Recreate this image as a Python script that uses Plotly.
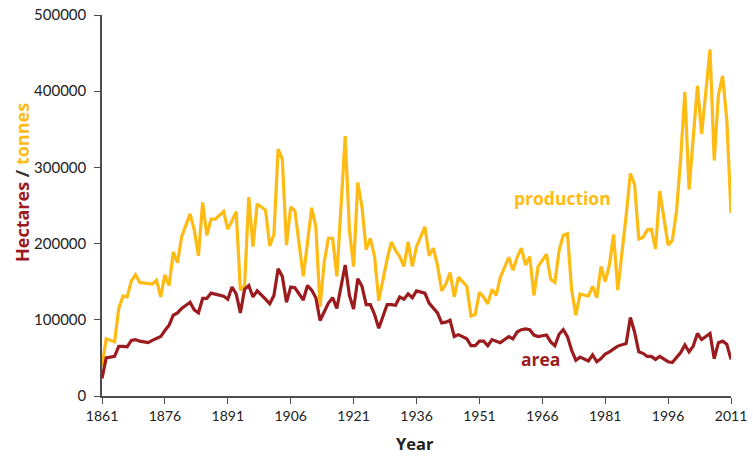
import plotly.graph_objects as go

years = [1861,1862,1864,1865,1866,1867,1868,1869,1870,1872,1873,1874,1875,1876,1877,1878,1879,1880,
         1882,1883,1884,1885,1886,1887,1888,1890,1891,1892,1893,1894,1895,1896,1897,1898,1900,1901,
         1902,1903,1904,1905,1906,1907,1909,1910,1911,1912,1913,1914,1915,1916,1917,1919,1920,1921,
         1922,1923,1924,1925,1926,1927,1929,1930,1931,1932,1933,1934,1935,1936,1938,1939,1940,1941,
         1942,1943,1944,1945,1946,1948,1949,1950,1951,1952,1953,1954,1955,1956,1958,1959,1960,1961,
         1962,1963,1964,1965,1967,1968,1969,1970,1971,1972,1973,1974,1975,1977,1978,1979,1980,1981,
         1982,1983,1984,1986,1987,1988,1989,1990,1991,1992,1993,1994,1996,1997,1998,1999,2000,2001,
         2002,2003,2004,2006,2007,2008,2009,2010,2011]

production = [39000,75000,71000,115000,131000,130000,151000,159000,149000,148000,147000,152000,130000,159000,
              145000,189000,175000,209000,239000,218000,184000,254000,211000,232000,232000,242000,219000,
              230000,242000,139000,145000,261000,196000,252000,244000,197000,212000,324000,311000,198000,
              248000,243000,157000,201000,247000,222000,117000,176000,207000,207000,157000,341000,218000,
              170000,280000,248000,192000,207000,183000,125000,180000,202000,191000,183000,170000,202000,
              170000,196000,222000,184000,194000,172000,138000,147000,162000,130000,156000,144000,105000,
              107000,136000,130000,121000,140000,132000,156000,182000,165000,182000,194000,172000,183000,
              132000,170000,186000,153000,149000,191000,211000,213000,139000,106000,134000,131000,144000,
              129000,170000,150000,172000,212000,139000,237000,292000,278000,206000,208000,218000,219000,
              193000,269000,198000,204000,242000,312000,399000,271000,336000,407000,344000,455000,309000,
              395000,420000,362000,240000]

area = [23000,50000,52000,65000,65000,64500,73000,74000,72000,70000,73000,76000,78000,86000,93000,106000,
        109000,115000,123000,113000,109000,128000,128000,135000,134000,131000,127000,143000,134000,109000,
        140000,145000,130000,138000,127000,121000,132000,167000,157000,123000,143000,142000,126000,145000,
        139000,129000,99000,110000,122000,129000,115000,172000,132000,114000,154000,144000,120000,120000,
        107000,89000,120000,120000,119000,130000,127000,134000,129000,138000,135000,122000,116000,109000,
        96000,97000,99500,78000,80500,75000,66000,66000,72000,72000,66000,74000,72000,70000,78000,75000,
        84000,87000,88000,87000,80000,78000,80000,71000,66000,81000,87000,78000,60000,47000,51000,46000,
        54000,45000,49000,55000,58000,62000,65500,69000,103000,84000,58000,56000,52000,52000,48000,52000,
        45000,44000,50000,57000,67000,58000,65500,82000,74000,82000,49000,70000,72000,68000,48000]

x_ticks = [1861, 1876, 1891, 1906, 1921, 1936, 1951, 1966, 1981, 1996, 2011]
y_ticks = [0, 100000, 200000, 300000, 400000, 500000]

RED = "#9b1b1e"
GOLD = "#fdbb13"
FONT = "Lato"
BOLD_FONT = "Open Sans"

fig = go.Figure()
fig.add_trace(go.Scatter(x=years, y=production, mode="lines", name="production",
                         line=dict(color=GOLD, width=3.2)))
fig.add_trace(go.Scatter(x=years, y=area, mode="lines", name="area",
                         line=dict(color=RED, width=3.2)))

fig.update_layout(
    width=753, height=457,
    margin=dict(l=102, r=22, t=15, b=61),
    paper_bgcolor="white", plot_bgcolor="white",
    showlegend=False,
    font=dict(family=FONT, color="#222222"),
    xaxis=dict(range=[1861, 2011], tickvals=x_ticks, ticktext=[str(t) for t in x_ticks],
               automargin=False,
               showgrid=False, zeroline=False, showline=True, linecolor="#4d4d4d", linewidth=1.5,
               ticks="outside", ticklen=6, tickcolor="#4d4d4d", tickfont=dict(size=14, color="#222222")),
    yaxis=dict(range=[0, 500000], tickvals=y_ticks, ticktext=[str(t) for t in y_ticks],
               automargin=False, ticklabelstandoff=5,
               showgrid=False, zeroline=False, showline=True, linecolor="#4d4d4d", linewidth=1.5,
               ticks="outside", ticklen=6, tickcolor="#4d4d4d", tickfont=dict(size=15, color="#222222")),
    annotations=[
        dict(text="production", x=1970.8, y=260000, xref="x", yref="y", showarrow=False,
             font=dict(family=BOLD_FONT, size=17.5, color=GOLD, weight="bold")),
        dict(text="area", x=1965.6, y=48000, xref="x", yref="y", showarrow=False,
             font=dict(family=BOLD_FONT, size=17.5, color=RED, weight="bold")),
        dict(text="Year", x=0.5, y=0, xref="paper", yref="paper", showarrow=False,
             xanchor="center", yanchor="middle", yshift=-47, xshift=-2,
             font=dict(family=BOLD_FONT, size=16.5, color="#222222", weight="bold")),
        dict(text=f'<span style="color:{RED}">Hectares</span> / <span style="color:{GOLD}">tonnes</span>',
             x=0, y=0.559, xref="paper", yref="paper", showarrow=False, textangle=-90,
             xanchor="center", yanchor="middle", xshift=-80,
             font=dict(family=BOLD_FONT, size=18, color="#333333", weight="bold")),
    ],
)

fig.write_html("out.html", config={"displayModeBar": False},
               post_script="document.body.style.margin='0';document.body.style.overflow='hidden';")
